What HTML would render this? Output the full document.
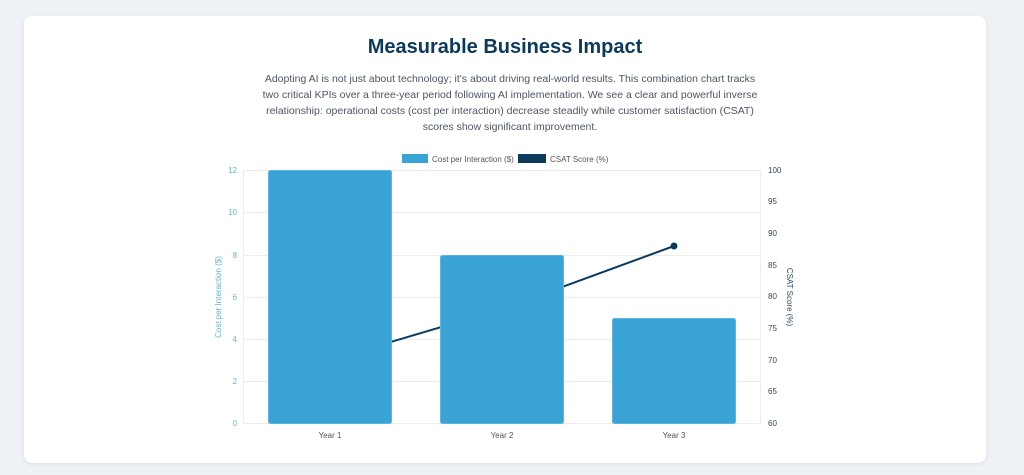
<!DOCTYPE html>
<html><head><meta charset="utf-8"><style>
html,body{margin:0;padding:0;width:1024px;height:475px;background:#eef2f7;overflow:hidden;font-family:"Liberation Sans",Arial,sans-serif}
.card{position:absolute;left:24px;top:16px;width:962px;height:447px;background:#fff;border-radius:8px;box-shadow:0 1px 4px rgba(0,0,0,0.08)}
h1{position:absolute;left:0;width:1010px;top:36px;margin:0;text-align:center;font-size:20px;font-weight:bold;color:#0b3a5c}
p{position:absolute;left:258px;width:504px;top:71px;margin:0;text-align:center;font-size:10.5px;line-height:16px;color:#4b5563}
svg{position:absolute;left:0;top:0}
</style></head><body>
<div class="card"></div>
<h1>Measurable Business Impact</h1>
<p>Adopting AI is not just about technology; it's about driving real-world results. This combination chart tracks two critical KPIs over a three-year period following AI implementation. We see a clear and powerful inverse relationship: operational costs (cost per interaction) decrease steadily while customer satisfaction (CSAT) scores show significant improvement.</p>
<svg width="1024" height="475" font-family="Liberation Sans, Arial, sans-serif">
<g stroke="#ececec" stroke-width="1">
<line x1="243" y1="170.5" x2="760" y2="170.5"/><line x1="243" y1="212.5" x2="760" y2="212.5"/>
<line x1="243" y1="255.5" x2="760" y2="255.5"/><line x1="243" y1="297.5" x2="760" y2="297.5"/>
<line x1="243" y1="339.5" x2="760" y2="339.5"/><line x1="243" y1="381.5" x2="760" y2="381.5"/>
<line x1="243" y1="423.5" x2="760" y2="423.5"/>
<line x1="243.5" y1="170" x2="243.5" y2="424"/><line x1="760.5" y1="170" x2="760.5" y2="424"/>
</g>
<g font-size="8" fill="#5fb3de" text-anchor="end">
<text x="237" y="173">12</text><text x="237" y="215">10</text><text x="237" y="258">8</text><text x="237" y="300">6</text><text x="237" y="342">4</text><text x="237" y="384">2</text><text x="237" y="426">0</text>
</g>
<g font-size="8" fill="#2c4a63">
<text x="768" y="173">100</text><text x="768" y="204">95</text><text x="768" y="236">90</text><text x="768" y="268">85</text><text x="768" y="299">80</text><text x="768" y="331">75</text><text x="768" y="363">70</text><text x="768" y="394">65</text><text x="768" y="426">60</text>
</g>
<text transform="translate(221,297) rotate(-90)" font-size="8" fill="#5fb3de" text-anchor="middle">Cost per Interaction ($)</text>
<text transform="translate(787,297) rotate(90)" font-size="8" fill="#2c4a63" text-anchor="middle">CSAT Score (%)</text>
<g font-size="8" fill="#555" text-anchor="middle">
<text x="330" y="438">Year 1</text><text x="502" y="438">Year 2</text><text x="674" y="438">Year 3</text>
</g>
<polyline points="330,360 502,309 674,246" fill="none" stroke="#0b3a5c" stroke-width="2"/>
<circle cx="674" cy="246" r="3.5" fill="#0b3a5c"/>
<g fill="#38a3d4" stroke="#5bb5e0" stroke-width="1">
<rect x="268.5" y="170.5" width="123" height="253" rx="2"/>
<rect x="440.5" y="255.5" width="123" height="168" rx="2"/>
<rect x="612.5" y="318.5" width="123" height="105" rx="2"/>
</g>
<rect x="402" y="154" width="26" height="9" fill="#38a3d4"/>
<text x="432" y="162" font-size="8" fill="#555">Cost per Interaction ($)</text>
<rect x="518" y="154" width="28" height="9" fill="#0b3a5c"/>
<text x="550" y="162" font-size="8" fill="#555">CSAT Score (%)</text>
</svg>
</body></html>
